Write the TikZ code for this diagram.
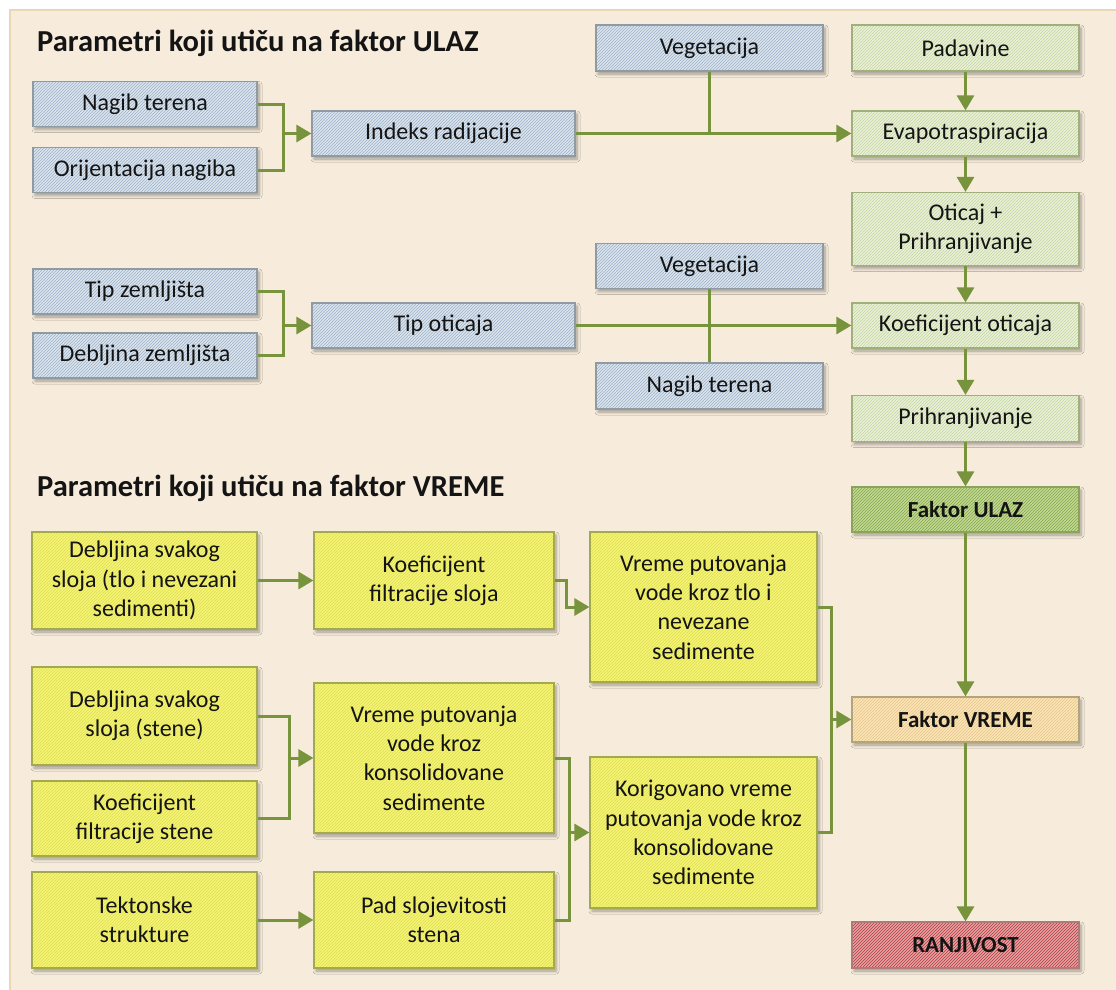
\documentclass[tikz,border=0pt]{standalone}
\usepackage{fontspec}
\setmainfont{Carlito}
\usetikzlibrary{arrows.meta,patterns,shadows.blur}

\definecolor{panel}{HTML}{F7ECDC}
\definecolor{panelline}{HTML}{EBD7B2}
\definecolor{ink}{HTML}{141414}
\definecolor{link}{HTML}{77933C}
\definecolor{bluefill}{HTML}{DCE5EE}
\definecolor{bluehatch}{HTML}{9DB1C6}
\definecolor{blueline}{HTML}{8F9AA3}
\definecolor{greenfill}{HTML}{EBF1DC}
\definecolor{greenhatch}{HTML}{C2D59C}
\definecolor{greenline}{HTML}{A0B07C}
\definecolor{ulazfill}{HTML}{C2D898}
\definecolor{ulazhatch}{HTML}{86A845}
\definecolor{ulazline}{HTML}{8CA35C}
\definecolor{yellowfill}{HTML}{F5F470}
\definecolor{yellowhatch}{HTML}{DEDD5C}
\definecolor{yellowline}{HTML}{A3AA4E}
\definecolor{vremefill}{HTML}{FBE4B6}
\definecolor{vremehatch}{HTML}{E5C68C}
\definecolor{vremeline}{HTML}{B3A47C}
\definecolor{ranfill}{HTML}{E3A3A5}
\definecolor{ranhatch}{HTML}{B8393D}
\definecolor{ranline}{HTML}{B07A7A}

\tikzset{
  box/.style={rectangle, inner sep=0pt, align=center, line width=1.2pt,
    font=\fontsize{24}{29.3}\selectfont, text=ink,
    blur shadow={shadow xshift=2pt, shadow yshift=-3pt, shadow blur radius=3pt,
      shadow blur steps=6, shadow opacity=35}},
  hatchbox/.style n args={3}{box, preaction={fill=#1},
    pattern=north east lines, pattern color=#2, draw=#3},
  bluebox/.style={hatchbox={bluefill}{bluehatch}{blueline}},
  greenbox/.style={hatchbox={greenfill}{greenhatch}{greenline}},
  ulazbox/.style={hatchbox={ulazfill}{ulazhatch}{ulazline}, font=\fontsize{23}{28}\selectfont\bfseries},
  yellowbox/.style={hatchbox={yellowfill}{yellowhatch}{yellowline}},
  vremebox/.style={hatchbox={vremefill}{vremehatch}{vremeline}, font=\fontsize{23}{28}\selectfont\bfseries},
  ranbox/.style={hatchbox={ranfill}{ranhatch}{ranline}, font=\fontsize{23}{28}\selectfont\bfseries},
  sz/.style n args={2}{minimum width=#1, minimum height=#2},
  heading/.style={anchor=base west, inner sep=0pt, text=ink,
    font=\fontsize{30.5}{35}\selectfont\bfseries},
  conn/.style={draw=link, line width=3pt},
  arr/.style={conn, -{Triangle[length=15pt,width=17pt]}},
}

\begin{document}
\begin{tikzpicture}[x=1pt, y=-1pt]
\useasboundingbox (0,0) rectangle (1116,990);
\fill[white] (0,0) rectangle (1116,990);
\fill[panel] (10,10) rectangle (1116,990);
\draw[panelline, line width=2pt] (10,990) -- (10,10) -- (1116,10);

% headings
\node[heading] (h1) at (37,52) {Parametri koji utiču na faktor ULAZ};
\node[heading] (h2) at (37,496) {Parametri koji utiču na faktor VREME};

% ULAZ parameters
\node[bluebox, sz={224}{45}] (nt1) at (145,104) {Nagib terena};
\node[bluebox, sz={224}{45}] (on) at (145,170) {Orijentacija nagiba};
\node[bluebox, sz={263}{45}] (ir) at (443.5,133.5) {Indeks radijacije};
\node[bluebox, sz={227}{46}] (veg1) at (709.5,48) {Vegetacija};
\node[bluebox, sz={224}{45}] (tz) at (145,291.5) {Tip zemljišta};
\node[bluebox, sz={224}{45}] (dz) at (145,355.5) {Debljina zemljišta};
\node[bluebox, sz={263}{45}] (to) at (443.5,325.5) {Tip oticaja};
\node[bluebox, sz={227}{45}] (veg2) at (709.5,266) {Vegetacija};
\node[bluebox, sz={227}{46}] (nt2) at (709.5,386) {Nagib terena};

% ULAZ chain
\node[greenbox, sz={227}{46}] (pad) at (965.5,48) {Padavine};
\node[greenbox, sz={227}{45}] (evap) at (965.5,133.5) {Evapotraspiracija};
\node[greenbox, sz={227}{73}] (otic) at (965.5,229) {Oticaj +\\Prihranjivanje};
\node[greenbox, sz={227}{45}] (koef) at (965.5,325.5) {Koeficijent oticaja};
\node[greenbox, sz={227}{46}] (pri) at (965.5,418.5) {Prihranjivanje};
\node[ulazbox, sz={227}{45}] (fu) at (965.5,509.5) {Faktor ULAZ};
\node[vremebox, sz={227}{45}] (fv) at (965.5,719.5) {Faktor VREME};
\node[ranbox, sz={227}{46}] (ran) at (965.5,945) {RANJIVOST};

% VREME parameters
\node[yellowbox, sz={225}{97}] (ds1) at (144.5,580.5) {Debljina svakog\\sloja (tlo i nevezani\\sedimenti)};
\node[yellowbox, sz={240}{97}] (kfs) at (434,580.5) {Koeficijent\\filtracije sloja};
\node[yellowbox, sz={227}{150}] (vtl) at (703.5,607) {Vreme putovanja\\vode kroz tlo i\\nevezane\\sedimente};
\node[yellowbox, sz={225}{98}] (ds2) at (144.5,716) {Debljina svakog\\sloja (stene)};
\node[yellowbox, sz={225}{75}] (kst) at (144.5,818.5) {Koeficijent\\filtracije stene};
\node[yellowbox, sz={225}{96}] (tek) at (144.5,920) {Tektonske\\strukture};
\node[yellowbox, sz={240}{150}] (vks) at (434,758) {Vreme putovanja\\vode kroz\\konsolidovane\\sedimente};
\node[yellowbox, sz={240}{96}] (pss) at (434,920) {Pad slojevitosti\\stena};
\node[yellowbox, sz={227}{151}] (kor) at (703.5,832.5) {Korigovano vreme\\putovanja vode kroz\\konsolidovane\\sedimente};

% junction columns
\coordinate (j1) at (283,0);
\coordinate (j2) at (289,0);
\coordinate (j3) at (566,0);
\coordinate (j4) at (569,0);
\coordinate (j5) at (831,0);

% ULAZ connectors
\draw[conn] (nt1.east) -- (nt1.east -| j1) -- (on.east -| j1) -- (on.east);
\draw[arr] (ir.west -| j1) -- (ir.west);
\draw[arr] (ir.east) -- (evap.west);
\draw[conn] (veg1.south) -- (veg1.south |- ir.east);
\draw[conn] (tz.east) -- (tz.east -| j1) -- (dz.east -| j1) -- (dz.east);
\draw[arr] (to.west -| j1) -- (to.west);
\draw[arr] (to.east) -- (koef.west);
\draw[conn] (veg2.south) -- (nt2.north);

\draw[arr] (pad.south) -- (evap.north);
\draw[arr] (evap.south) -- (otic.north);
\draw[arr] (otic.south) -- (koef.north);
\draw[arr] (koef.south) -- (pri.north);
\draw[arr] (pri.south) -- (fu.north);
\draw[arr] (fu.south) -- (fv.north);
\draw[arr] (fv.south) -- (ran.north);

% VREME connectors
\draw[arr] (ds1.east) -- (kfs.west);
\draw[arr] (kfs.east) -- (kfs.east -| j3) -- (vtl.west -| j3) -- (vtl.west);
\draw[conn] (ds2.east) -- (ds2.east -| j2) -- (kst.east -| j2) -- (kst.east);
\draw[arr] (vks.west -| j2) -- (vks.west);
\draw[arr] (tek.east) -- (pss.west);
\draw[conn] (vks.east) -- (vks.east -| j4) -- (pss.east -| j4) -- (pss.east);
\draw[arr] (kor.west -| j4) -- (kor.west);
\draw[conn] (vtl.east) -- (vtl.east -| j5) -- (kor.east -| j5) -- (kor.east);
\draw[arr] (fv.west -| j5) -- (fv.west);
\end{tikzpicture}
\end{document}
